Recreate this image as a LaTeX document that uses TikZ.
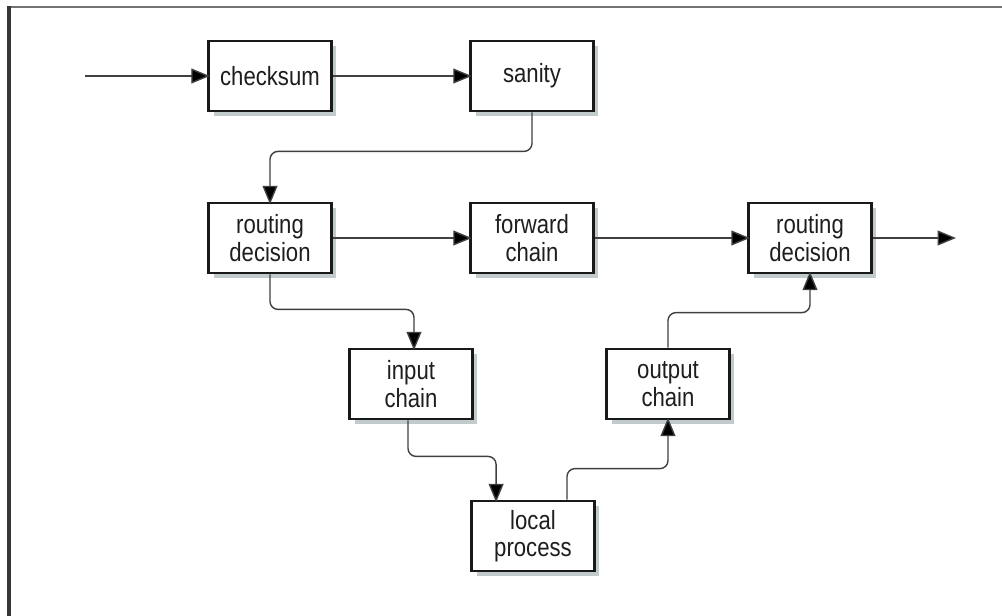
\documentclass[tikz,border=0pt]{standalone}
\usepackage{fontspec}
\setmainfont[FakeStretch=0.84]{Liberation Sans}
\usetikzlibrary{arrows.meta,shadows}
\definecolor{framedark}{RGB}{55, 55, 55}
\definecolor{framegray}{RGB}{115, 115, 115}
\definecolor{shadowgray}{RGB}{178, 190, 190}
\definecolor{inkgray}{RGB}{30, 30, 30}

\begin{document}
\begin{tikzpicture}[x=0.02cm, y=-0.02cm,
    box/.style={draw=black!90, line width=1.6pt, fill=white, text=inkgray,
                minimum width=2.46cm, minimum height=1.40cm, align=center, inner sep=0pt,
                font=\fontsize{15}{15.5}\selectfont,
                drop shadow={shadow xshift=0.1cm, shadow yshift=-0.1cm, fill=shadowgray, opacity=0.8}},
    flow/.style={draw=black!75, line width=0.8pt, rounded corners=0.16cm, shorten >=-1.5pt,
                 -{Triangle[length=10.5pt, width=8.5pt, fill=black]}}]
            \useasboundingbox                                      (0, 0) rectangle (1002, 616);
            \fill[white]                                           (0, 0) rectangle (1002, 616);
            \draw[framegray, line width=1.4pt]                     (8, 7) -- (1002, 7);
            \draw[framedark, line width=2pt]                       (9, 6) -- (9, 616);

            \node[box] (checksum) at (270, 076) {checksum};
            \node[box] (sanity)   at (532, 076) {sanity};
            \node[box] (rdin)     at (270, 238) {routing\\decision};
            \node[box] (forward)  at (532, 238) {forward\\chain};
            \node[box] (rdout)    at (810, 238) {routing\\decision};
            \node[box] (input)    at (411, 384) {input\\chain};
            \node[box] (output)   at (668, 384) {output\\chain};
            \node[box] (local)    at (533, 536) {local\\process};

            \coordinate (entry) at (085, 076);
            \coordinate (exit)  at (956, 238);

            \draw[flow] (entry)    -- (checksum);
            \draw[flow] (checksum) -- (sanity);
            \draw[flow] (sanity.south)  -- ++(0, 39) -| (rdin.north);
            \draw[flow] (rdin)     -- (forward);
            \draw[flow] (forward)  -- (rdout);
            \draw[flow, shorten >=0pt] (rdout)    -- (exit);
            \draw[flow] (rdin.south)    -- ++(0, 35) -| ([xshift=0.06cm]input.north);
            \draw[flow] ([xshift=-0.06cm]input.south)   -- ++(0, 36) -| ([xshift=0.52cm]local.north west);
            \draw[flow] ([xshift=0.68cm]local.north)    -- ++(0, -31) -| (output.south);
            \draw[flow] (output.north)  -- ++(0, -35) -| (rdout.south);
\end{tikzpicture}
\end{document}
